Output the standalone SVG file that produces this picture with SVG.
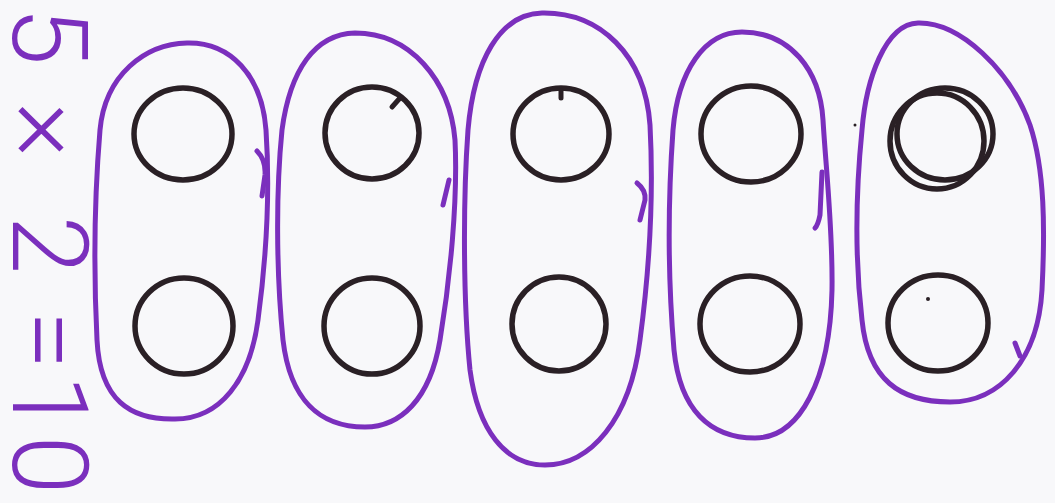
<svg xmlns="http://www.w3.org/2000/svg" width="1055" height="503" viewBox="0 0 1055 503">
  <style>
    .loop { fill: none; stroke: #7b2fbd; stroke-width: 5; stroke-linecap: round; stroke-linejoin: round; }
    .ball { fill: none; stroke: #2a2025; stroke-width: 5.5; }
    .tick { fill: none; stroke: #2a2025; stroke-width: 5; stroke-linecap: round; }
    .speck { fill: #2a2025; }
    .eq { font-family: Roboto, "Liberation Sans", sans-serif; font-size: 106px; font-weight: 300; fill: #7b2fbd; text-anchor: middle; }
  </style>
  <rect width="1055" height="503" fill="#f8f8fa"/>

  <g id="equation">
    <text class="eq" transform="translate(13,0) rotate(90)"><tspan x="36" y="0">5</tspan><tspan x="130" y="0">×</tspan><tspan x="245" y="0">2</tspan><tspan x="340" y="0">=</tspan><tspan x="404" y="0">1</tspan><tspan x="465" y="0">0</tspan></text>
  </g>

  <g id="group1">
    <path class="loop" d="M 187,43 C 230,42 262,75 266,130 C 270,190 266,260 258,320 C 250,380 220,419 175,419 C 130,420 100,400 97,340 C 93,260 95,190 100,130 C 105,75 145,44 187,43 Z"/>
    <path class="loop" d="M 257,151 Q 266,160 265,175 L 262,196"/>
    <ellipse class="ball" cx="183" cy="134" rx="49" ry="46"/>
    <ellipse class="ball" cx="184" cy="326" rx="49" ry="48"/>
  </g>

  <g id="group2">
    <path class="loop" d="M 355,33 C 410,33 450,80 455,140 C 458,200 450,280 440,340 C 430,400 400,427 365,427 C 320,427 290,400 283,340 C 276,270 276,190 282,130 C 290,70 315,34 355,33 Z"/>
    <path class="loop" d="M 449,180 L 443,205"/>
    <ellipse class="ball" cx="372" cy="133" rx="47" ry="46"/>
    <path class="tick" d="M 400,98 L 392,107"/>
    <ellipse class="ball" cx="372" cy="326" rx="48" ry="48"/>
  </g>

  <g id="group3">
    <path class="loop" d="M 542,13 C 600,12 645,55 650,125 C 654,200 648,280 640,340 C 630,420 590,465 545,465 C 505,465 478,430 470,370 C 463,300 463,200 468,130 C 474,60 500,14 542,13 Z"/>
    <path class="loop" d="M 637,183 Q 646,190 645,200 L 640,220"/>
    <ellipse class="ball" cx="561" cy="134" rx="48" ry="46"/>
    <path class="tick" d="M 561,91 L 561,98"/>
    <ellipse class="ball" cx="559" cy="324" rx="47" ry="47"/>
  </g>

  <g id="group4">
    <path class="loop" d="M 742,32 C 790,32 820,70 823,120 C 826,170 833,230 832,290 C 830,380 800,438 755,438 C 710,438 680,410 674,350 C 668,280 668,200 673,130 C 678,70 705,32 742,32 Z"/>
    <path class="loop" d="M 822,172 L 820,215 Q 818,225 815,228"/>
    <ellipse class="ball" cx="751" cy="134" rx="50" ry="48"/>
    <ellipse class="ball" cx="750" cy="324" rx="50" ry="48"/>
  </g>

  <g id="group5">
    <path class="loop" d="M 918,23 C 960,22 1010,70 1030,125 C 1045,170 1045,230 1042,290 C 1038,360 1000,402 950,402 C 900,402 868,380 862,320 C 855,260 855,200 862,130 C 866,80 885,24 918,23 Z"/>
    <path class="loop" d="M 1015,343 L 1020,356"/>
    <ellipse class="ball" cx="945" cy="134" rx="48" ry="46" stroke-width="7"/>
    <ellipse class="ball" cx="937" cy="141" rx="47" ry="48" stroke-width="6"/>
    <ellipse class="ball" cx="938" cy="323" rx="50" ry="48" stroke-width="6"/>
    <circle class="speck" cx="928" cy="299" r="2"/>
    <circle class="speck" cx="855" cy="125" r="1.5"/>
  </g>
</svg>
